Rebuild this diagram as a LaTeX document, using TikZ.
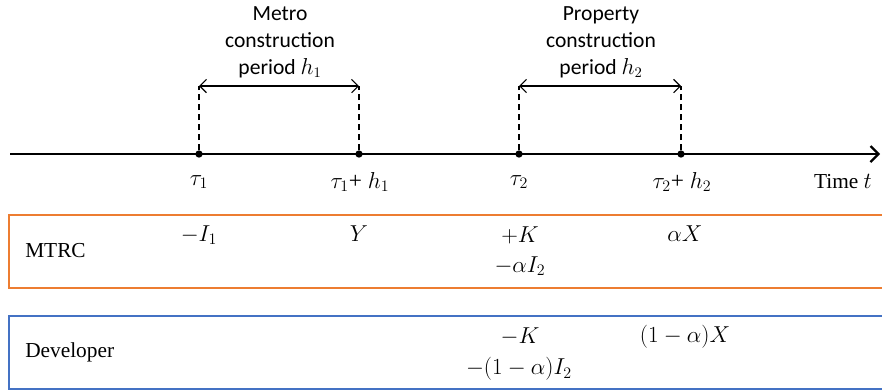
\documentclass[tikz,border=0pt]{standalone}
\usepackage{fontspec}
\setmainfont{Liberation Serif}
\newfontfamily\carl{Carlito}
\usetikzlibrary{arrows.meta}
\definecolor{orng}{HTML}{ED7D31}
\definecolor{blu}{HTML}{4472C4}
\begin{document}
\begin{tikzpicture}[x=0.75pt,y=-0.75pt,
  dotnode/.style={circle,fill=black,inner sep=0pt,minimum size=5.5pt},
  lbl/.style={inner sep=0pt,font=\fontsize{17.5}{20}\selectfont},
  txt/.style={inner sep=0pt,font=\fontsize{16}{19}\selectfont},
  toptxt/.style={inner sep=0pt,align=center,font=\carl\fontsize{16.2}{20.2}\selectfont},
  dashline/.style={line width=0.8pt,dash pattern=on 4.5pt off 3pt},
  span/.style={{Straight Barb[length=5pt,width=10pt]}-{Straight Barb[length=5pt,width=10pt]},line width=0.8pt},
  boxline/.style={line width=1.2pt}]
\useasboundingbox (0,0) rectangle (882,390);
% axis
\coordinate (axL) at (10,154);
\coordinate (axR) at (880,154);
\draw[line width=1.6pt,-{Straight Barb[length=6pt,width=12pt]}] (axL) -- (axR);
\node[dotnode] (d1) at (199,154) {};
\node[dotnode] (d2) at (359,154) {};
\node[dotnode] (d3) at (519,154) {};
\node[dotnode] (d4) at (681,154) {};
\coordinate (u1) at (199,86);
\coordinate (u2) at (359,86);
\coordinate (u3) at (519,86);
\coordinate (u4) at (681,86);
\draw[dashline] (d1) -- (u1);
\draw[dashline] (d2) -- (u2);
\draw[dashline] (d3) -- (u3);
\draw[dashline] (d4) -- (u4);
\draw[span] (u1) -- (u2);
\draw[span] (u3) -- (u4);
\node[toptxt] (t1) at (280,42) {Metro\\construction\\period $h_1$};
\node[toptxt] (t2) at (601,42) {Property\\construction\\period $h_2$};
% axis labels
\node[lbl] (l1) at (199,182) {$\tau_1$};
\node[lbl] (l2) at (360,182) {$\tau_1$+ $h_1$};
\node[lbl] (l3) at (519,182) {$\tau_2$};
\node[lbl] (l4) at (682,182) {$\tau_2$+ $h_2$};
\node[txt] (l5) at (843,182) {Time $t$};
% MTRC box
\draw[boxline,orng] (882,215) -- (9,215) -- (9,288) -- (882,288);
\node[txt,anchor=west] (m0) at (25,251) {MTRC};
\node[lbl] (m1) at (199,235) {$-I_1$};
\node[lbl] (m2) at (359,234) {$Y$};
\node[lbl] (m3) at (520,235) {$+K$};
\node[lbl] (m4) at (685,234) {$\alpha X$};
\node[lbl] (m5) at (520,266) {$-\alpha I_2$};
% Developer box
\draw[boxline,blu] (882,316) -- (9,316) -- (9,389) -- (882,389);
\node[txt,anchor=west] (v0) at (25,352) {Developer};
\node[lbl] (v1) at (520,337) {$-K$};
\node[lbl] (v2) at (685,337) {$(1-\alpha)X$};
\node[lbl] (v3) at (519,369) {$-(1-\alpha)I_2$};
\end{tikzpicture}
\end{document}
